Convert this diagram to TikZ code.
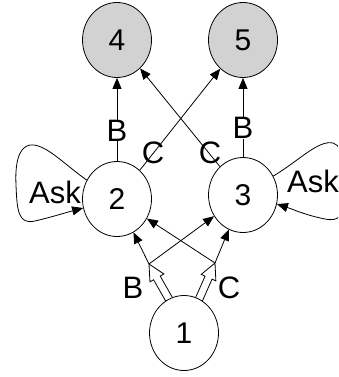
\documentclass[tikz,border=0pt]{standalone}
\usepackage{fontspec}
\setmainfont{Liberation Sans}
\usetikzlibrary{shapes.geometric, arrows.meta, calc}
\pgfdeclarelayer{bg}
\pgfsetlayers{bg,main}
\definecolor{finalgray}{RGB}{210,210,210}

\begin{document}
\begin{tikzpicture}[x=1pt, y=-1pt,
  state/.style={draw, ellipse, minimum width=69pt, minimum height=75pt,
    inner sep=0pt, fill=white, line width=0.8pt,
    font=\fontsize{30}{30}\selectfont},
  final/.style={state, fill=finalgray},
  edge/.style={line width=0.8pt, -{Triangle[length=11pt, width=9pt]}},
  hollow/.style={line width=0.8pt, fill=white, line join=miter},
  lab/.style={inner sep=0pt, font=\fontsize{31}{31}\selectfont},
]
\useasboundingbox (0,0) rectangle (338,377);
\clip (0,0) rectangle (338,377);

% states
\node[final] (n4) at (117,40) {4};
\node[final] (n5) at (243,40) {5};
\node[state] (n2) at (117,199) {2};
\node[state] (n3) at (243,195) {3};
\node[state] (n1) at (184,333) {1};

% branch points of the two choices out of state 1
\coordinate (L) at (149,264);
\coordinate (R) at (215,263);

% block arrows out of state 1 (their bases sit behind the node)
\begin{pgfonlayer}{bg}
\coordinate (la) at ($(n1.114)!-8pt!(L)$);
\coordinate (lh) at ($(L)!16pt!(la)$);
\draw[hollow] ($(la)!3.8pt!90:(L)$) -- ($(lh)!3.8pt!90:(L)$)
  -- ($(lh)!8pt!90:(L)$) -- (L) -- ($(lh)!8pt!-90:(L)$)
  -- ($(lh)!3.8pt!-90:(L)$) -- ($(la)!3.8pt!-90:(L)$) -- cycle;
\coordinate (ra) at ($(n1.66)!-8pt!(R)$);
\coordinate (rh) at ($(R)!16pt!(ra)$);
\draw[hollow] ($(ra)!3.8pt!90:(R)$) -- ($(rh)!3.8pt!90:(R)$)
  -- ($(rh)!8pt!90:(R)$) -- (R) -- ($(rh)!8pt!-90:(R)$)
  -- ($(rh)!3.8pt!-90:(R)$) -- ($(ra)!3.8pt!-90:(R)$) -- cycle;
\end{pgfonlayer}
\node[lab] (lB) at (133,288) {B};
\node[lab] (lC) at (229,288) {C};

% thin arrows from the branch points
\draw[edge] (L) -- (n2);
\draw[edge] (L) -- (n3);
\draw[edge] (R) -- (n3);
\draw[edge] (R) -- (n2);

% transitions to the final states
\draw[edge] (n2) -- (n4);
\draw[edge] (n3) -- (n5);
\draw[edge] (n2) -- (n5);
\draw[edge] (n3) -- (n4);
\node[lab, fill=white] (b24) at (117,130.5) {B};
\node[lab, fill=white] (b35) at (243,128) {B};
\node[lab] (c25) at (153,153) {C};
\node[lab] (c34) at (210,153) {C};

% self loops
\draw[edge] (n2.148) .. controls (65,165) and (45,143) .. (30,145)
  .. controls (18,147) and (15,165) .. (16,185)
  .. controls (17,210) and (18,225) .. (35,221)
  .. controls (52,217) and (68,212) .. (n2.195);
\node[lab] (ask2) at (55,192) {Ask};
\draw[edge] (n3.32) .. controls (300,160) and (318,140) .. (333,143)
  .. controls (345,146) and (346,175) .. (345,195)
  .. controls (344,215) and (340,222) .. (325,219)
  .. controls (305,215) and (295,210) .. (n3.-15);
\node[lab] (ask3) at (313,181) {Ask};
\end{tikzpicture}
\end{document}
